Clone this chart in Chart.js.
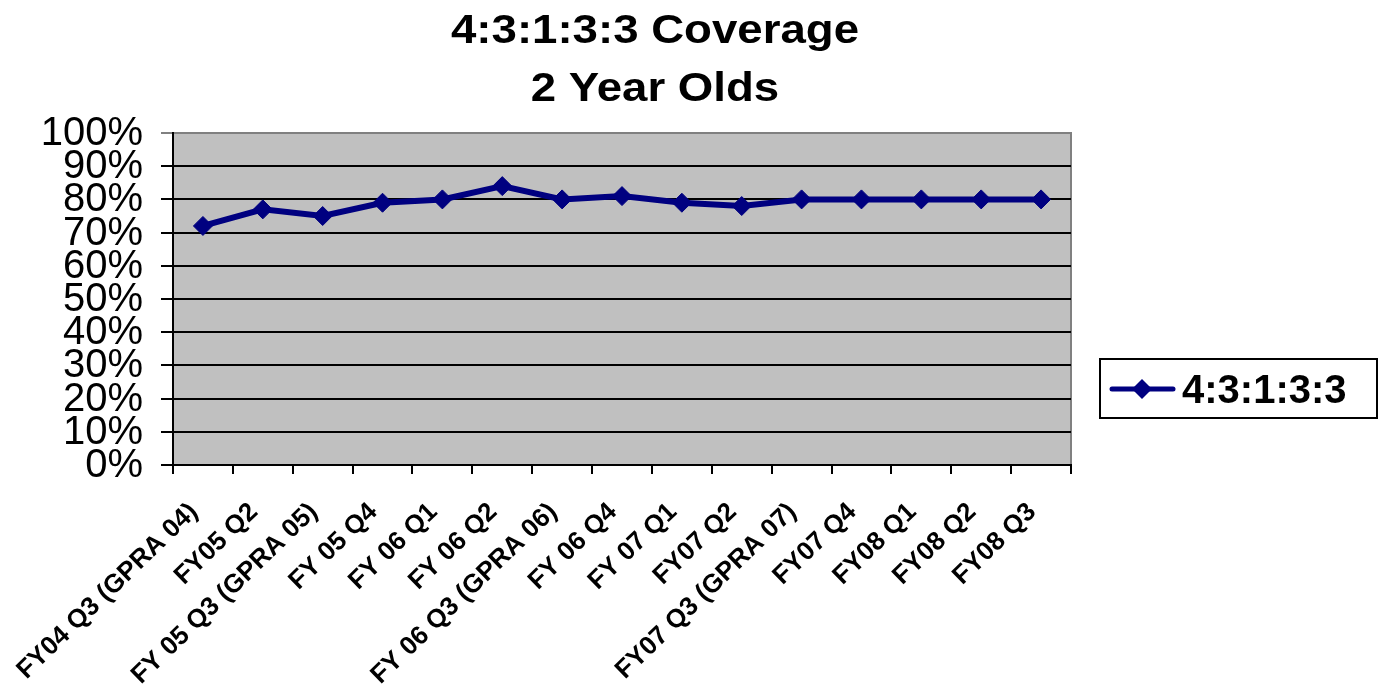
<!DOCTYPE html>
<html lang="en">
<head>
  <meta charset="UTF-8">
  <title>4:3:1:3:3 Coverage - 2 Year Olds</title>
  <style>
    html, body { margin: 0; padding: 0; background: #fff; }
    #wrap { width: 1384px; height: 687px; position: relative; }
  </style>
  <script src="https://cdn.jsdelivr.net/npm/chart.js"></script>
</head>
<body>
  <div id="wrap"><canvas id="coverageChart" width="1384" height="687"></canvas></div>

  <script>
    const titleLines = ['4:3:1:3:3 Coverage', '2 Year Olds'];
    const seriesName = '4:3:1:3:3';
    const quarters = [
      'FY04 Q3 (GPRA 04)', 'FY05 Q2', 'FY 05 Q3 (GPRA 05)', 'FY 05 Q4', 'FY 06 Q1',
      'FY 06 Q2', 'FY 06 Q3 (GPRA 06)', 'FY 06 Q4', 'FY 07 Q1', 'FY07 Q2',
      'FY07 Q3 (GPRA 07)', 'FY07 Q4', 'FY08 Q1', 'FY08 Q2', 'FY08 Q3'
    ];
    const coverage = [72, 77, 75, 79, 80, 84, 80, 81, 79, 78, 80, 80, 80, 80, 80];
    const yTicks = [0, 10, 20, 30, 40, 50, 60, 70, 80, 90, 100];

    const NAVY = '#000080';
    const FONT = '"Liberation Sans", Arial, sans-serif';

    // background of the plot + gray frame (top/right)
    const plotBox = {
      id: 'plotBox',
      beforeDraw(chart) {
        const { ctx, chartArea: a } = chart;
        ctx.save();
        ctx.fillStyle = '#c0c0c0';
        ctx.fillRect(a.left, a.top, a.right - a.left, a.bottom - a.top);
        ctx.strokeStyle = '#808080';
        ctx.lineWidth = 2;
        ctx.beginPath();
        ctx.moveTo(a.left, a.top);
        ctx.lineTo(a.right, a.top);
        ctx.lineTo(a.right, a.bottom);
        ctx.stroke();
        ctx.restore();
      }
    };

    // title, axis labels and legend, placed from the scales
    const textLayer = {
      id: 'textLayer',
      afterDraw(chart) {
        const { ctx } = chart;
        const xs = chart.scales.x, ys = chart.scales.y;
        ctx.save();
        ctx.fillStyle = '#000';

        // title
        ctx.font = 'bold 40px ' + FONT;
        ctx.textAlign = 'center';
        ctx.textBaseline = 'alphabetic';
        [43, 101].forEach((base, i) => {
          ctx.save();
          ctx.translate(655, base);
          ctx.scale(1.14, 1);
          ctx.fillText(titleLines[i], 0, 0);
          ctx.restore();
        });

        // y tick labels
        ctx.font = '40px ' + FONT;
        ctx.textAlign = 'right';
        ctx.textBaseline = 'middle';
        ys.ticks.forEach(t => {
          ctx.fillText(t.value + '%', 143, ys.getPixelForValue(t.value) + 1);
        });

        // x labels, rotated
        ctx.font = 'bold 26px ' + FONT;
        ctx.textAlign = 'right';
        ctx.textBaseline = 'middle';
        quarters.forEach((lab, i) => {
          ctx.save();
          ctx.translate(xs.getPixelForValue(i) - 9, 508);
          ctx.rotate(-44 * Math.PI / 180);
          ctx.fillText(lab, 0, 0);
          ctx.restore();
        });

        // legend
        ctx.strokeStyle = '#000';
        ctx.lineWidth = 2;
        ctx.strokeRect(1100, 359, 277, 59);
        ctx.strokeStyle = NAVY;
        ctx.lineWidth = 5;
        ctx.lineCap = 'round';
        ctx.beginPath();
        ctx.moveTo(1112, 389);
        ctx.lineTo(1173, 389);
        ctx.stroke();
        ctx.fillStyle = NAVY;
        ctx.beginPath();
        ctx.moveTo(1142, 379);
        ctx.lineTo(1152, 389);
        ctx.lineTo(1142, 399);
        ctx.lineTo(1132, 389);
        ctx.closePath();
        ctx.fill();
        ctx.fillStyle = '#000';
        ctx.font = 'bold 40px ' + FONT;
        ctx.textAlign = 'left';
        ctx.textBaseline = 'alphabetic';
        ctx.fillText(seriesName, 1182, 403);
        ctx.restore();
      }
    };

    new Chart(document.getElementById('coverageChart'), {
      type: 'line',
      data: {
        labels: quarters,
        datasets: [{
          label: seriesName,
          data: coverage,
          borderColor: NAVY,
          backgroundColor: NAVY,
          borderWidth: 6,
          tension: 0,
          pointStyle: 'rectRot',
          pointRadius: 9.5,
          pointBackgroundColor: NAVY,
          pointBorderColor: NAVY,
          pointBorderWidth: 1
        }]
      },
      options: {
        responsive: false,
        animation: false,
        events: [],
        layout: { padding: { top: 133, left: 161, right: 313, bottom: 213 } },
        plugins: {
          legend: { display: false },
          title: { display: false },
          tooltip: { enabled: false }
        },
        scales: {
          x: {
            type: 'category',
            offset: true,
            grid: {
              offset: true,
              drawOnChartArea: false,
              drawTicks: true,
              tickLength: 9,
              color: '#000',
              lineWidth: 2
            },
            border: { display: true, color: '#000', width: 2 },
            ticks: { display: false },
            afterFit(s) { s.height = 9; }
          },
          y: {
            min: 0,
            max: 100,
            afterBuildTicks(s) { s.ticks = yTicks.map(v => ({ value: v })); },
            grid: {
              drawTicks: true,
              tickLength: 12,
              color: ctx => ctx.tick && ctx.tick.value === 100 ? '#808080' : '#000',
              lineWidth: 2
            },
            border: { display: true, color: '#000', width: 2 },
            ticks: { display: false },
            afterFit(s) { s.width = 12; }
          }
        }
      },
      plugins: [plotBox, textLayer]
    });
  </script>
</body>
</html>
